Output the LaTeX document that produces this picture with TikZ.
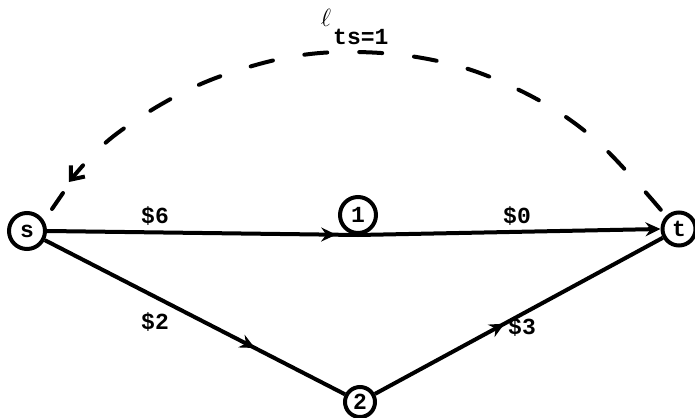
\documentclass[tikz,border=0pt]{standalone}
\usepackage{fontspec}
\setmainfont{Liberation Mono}
\usetikzlibrary{arrows.meta,decorations.markings}
\begin{document}
\begin{tikzpicture}[x=1pt,y=-1pt,
  txt/.style={font=\fontsize{23}{25}\selectfont\bfseries},
  vert/.style={circle,draw,line width=4pt,inner sep=0pt,txt},
  edge/.style={line width=4pt},
  lab/.style={txt,inner sep=0pt},
  midarrow/.style={postaction={decorate,decoration={markings,
     mark=at position #1 with {\arrow{Stealth[length=15pt,width=14pt,inset=5pt]}}}}},
  dasharc/.style={line width=4pt,line cap=round,dash pattern=on 23pt off 32pt,dash phase=47pt}
]
\useasboundingbox (0,0) rectangle (695,417);
\node[vert,minimum size=36pt] (s) at (27,231) {s};
\node[vert,minimum size=33pt] (t) at (679,229) {t};
\node[vert,minimum size=36pt] (1) at (358,215) {1};
\node[vert,minimum size=30pt] (2) at (360,402) {2};
\coordinate (tipA) at (69,182);
\coordinate (tailA) at (63,193);
\coordinate (tailB) at (52,209);
% edges
\draw[edge,midarrow=0.93] (s.east) -- (1.south);
\draw[edge,-{Stealth[length=15pt,width=14pt,inset=5pt]}] (1.south) -- (t.west);
\draw[edge,midarrow=0.70] (s) -- (2);
\draw[edge,midarrow=0.45] (2) -- (t);
% labels
\node[lab] (l6) at (155,216) {\$6};
\node[lab] (l0) at (517,216) {\$0};
\node[lab] (l2) at (155,322) {\$2};
\node[lab] (l3) at (522,327) {\$3};
\node[lab,anchor=base west] (lts) at (333,45) {ts=1};
\node[inner sep=0pt,font=\fontsize{24}{26}\selectfont] (ell) at (326,18) {$\ell$};
% dashed arc
\draw[dasharc,-{Straight Barb[length=11pt,width=18pt]}]
  plot[smooth,tension=0.6] coordinates {(t.north west) (640,186) (600,144) (560,113) (515,88) (465,68) (410,56) (357,52) (310,54) (263,63) (208,81) (160,105) (115,135) (88,160) (tipA)};
\draw[line width=4pt,line cap=round] (tailA) -- (tailB);
\end{tikzpicture}
\end{document}
